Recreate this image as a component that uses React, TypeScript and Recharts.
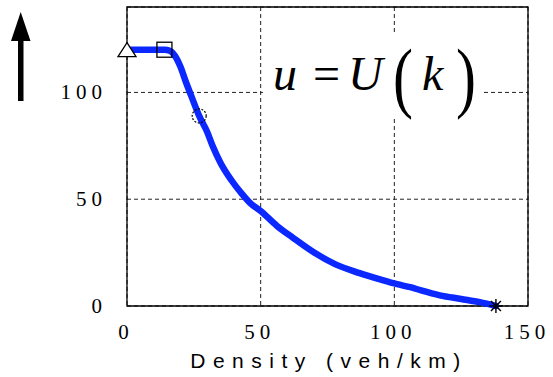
import {
  ComposedChart,
  Line,
  Scatter,
  XAxis,
  YAxis,
  CartesianGrid,
  ReferenceArea,
  Customized,
} from "recharts";

// speed-density relation u = U(k)
const density = [
  0, 14, 16, 18, 20, 22, 24, 27, 30, 32, 35, 39, 43, 46, 50, 56, 62, 70, 78,
  87, 95, 101, 106, 110, 117, 125, 132, 138,
];
const speed = [
  120, 120, 119.5, 117, 112, 105, 98.5, 89, 81.5, 75, 67, 59, 52.5, 48.3, 44.5,
  37.6, 32, 25, 19.5, 15.4, 12.3, 10.2, 8.8, 7.3, 5, 3.3, 1.8, 0,
];

// marked states on the curve
const freeFlow = [{ k: 0, u: 120 }];
const breakPoint = [{ k: 14, u: 120 }];
const capacityPoint = [{ k: 27, u: 89 }];
const jamPoint = [{ k: 138, u: 0 }];

const xTicks = [0, 50, 100, 150];
const yTicks = [0, 50, 100];

const curve = density.map((k, i) => ({ k, u: speed[i] }));

const serif = "'Liberation Serif', 'Times New Roman', serif";
const sans = "'Liberation Sans', Arial, sans-serif";

const XTick = ({ x, y, payload }: any) => (
  <text
    x={x - 1}
    y={y + 25}
    textAnchor="middle"
    fontSize={21}
    letterSpacing={5}
    fill="#000"
    style={{ fontFamily: serif }}
  >
    {payload.value}
  </text>
);

const YTick = ({ x, y, payload }: any) => (
  <text
    x={x - 12}
    y={y + 7}
    textAnchor="end"
    fontSize={21}
    letterSpacing={5}
    fill="#000"
    style={{ fontFamily: serif }}
  >
    {payload.value}
  </text>
);

const Triangle = ({ cx, cy }: any) => (
  <path
    d={`M${cx},${cy - 7} L${cx + 9},${cy + 7} L${cx - 9},${cy + 7} Z`}
    fill="#fff"
    stroke="#000"
    strokeWidth={1.3}
  />
);

const Square = ({ cx, cy }: any) => (
  <rect x={cx - 7.5} y={cy - 7.5} width={15} height={15} fill="none" stroke="#000" strokeWidth={1.3} />
);

const DottedCircle = ({ cx, cy }: any) => (
  <circle cx={cx} cy={cy} r={7} fill="none" stroke="#000" strokeWidth={1.2} strokeDasharray="2 1.5" />
);

const Asterisk = ({ cx, cy }: any) => (
  <g stroke="#000" strokeWidth={1.4}>
    <line x1={cx - 7} y1={cy} x2={cx + 7} y2={cy} />
    <line x1={cx} y1={cy - 7} x2={cx} y2={cy + 7} />
    <line x1={cx - 5} y1={cy - 5} x2={cx + 5} y2={cy + 5} />
    <line x1={cx - 5} y1={cy + 5} x2={cx + 5} y2={cy - 5} />
  </g>
);

// stretched parenthesis for the formula
const Paren = ({ x, ch }: { x: number; ch: string }) => (
  <text transform={`translate(${x},117) scale(1,1.3)`} x={0} y={-10.8} fontSize={60}>
    {ch}
  </text>
);

// formula box, axis title and the upward arrow beside the speed axis
const Annotations = () => (
  <g>
    <rect x={263} y={32} width={218} height={86} fill="#fff" />
    <g fill="#000" style={{ fontFamily: serif }}>
      <text x={273} y={90} fontSize={48} fontStyle="italic">u</text>
      <text x={313} y={90} fontSize={48}>=</text>
      <text x={348} y={90} fontSize={48} fontStyle="italic">U</text>
      <Paren x={393} ch="(" />
      <text x={422} y={90} fontSize={48} fontStyle="italic">k</text>
      <Paren x={456} ch=")" />
    </g>
    <text
      x={329}
      y={368}
      textAnchor="middle"
      fontSize={21}
      letterSpacing={7.5}
      fill="#000"
      style={{ fontFamily: sans }}
    >
      Density (veh/km)
    </text>
    <rect x={18} y={38} width={5.5} height={63} fill="#000" />
    <path d="M20.7,12 L30.5,41 L11,41 Z" fill="#000" />
  </g>
);

export default function App() {
  return (
    <div style={{ position: "absolute", left: 0, top: 0, width: 553, height: 377, background: "#fff" }}>
      <ComposedChart
        width={553}
        height={377}
        margin={{ top: 7, right: 25, bottom: 0, left: 0 }}
      >
        <CartesianGrid stroke="#222" strokeDasharray="4 3" />
        <XAxis
          type="number"
          dataKey="k"
          domain={[0, 150]}
          ticks={xTicks}
          height={71}
          axisLine={false}
          tickLine={false}
          tick={<XTick />}
        />
        <YAxis
          type="number"
          dataKey="u"
          domain={[0, 140]}
          ticks={yTicks}
          width={127}
          axisLine={false}
          tickLine={false}
          tick={<YTick />}
        />
        <ReferenceArea x1={0} x2={150} y1={0} y2={140} fill="none" stroke="#000" strokeWidth={1.3} fillOpacity={0} />
        <Customized component={Annotations} />
        <Line
          data={curve}
          dataKey="u"
          type="monotone"
          stroke="#0a28ff"
          strokeWidth={6.5}
          strokeLinecap="round"
          strokeLinejoin="round"
          dot={false}
          isAnimationActive={false}
        />
        <Scatter data={freeFlow} dataKey="u" shape={<Triangle />} isAnimationActive={false} />
        <Scatter data={breakPoint} dataKey="u" shape={<Square />} isAnimationActive={false} />
        <Scatter data={capacityPoint} dataKey="u" shape={<DottedCircle />} isAnimationActive={false} />
        <Scatter data={jamPoint} dataKey="u" shape={<Asterisk />} isAnimationActive={false} />
      </ComposedChart>
    </div>
  );
}
